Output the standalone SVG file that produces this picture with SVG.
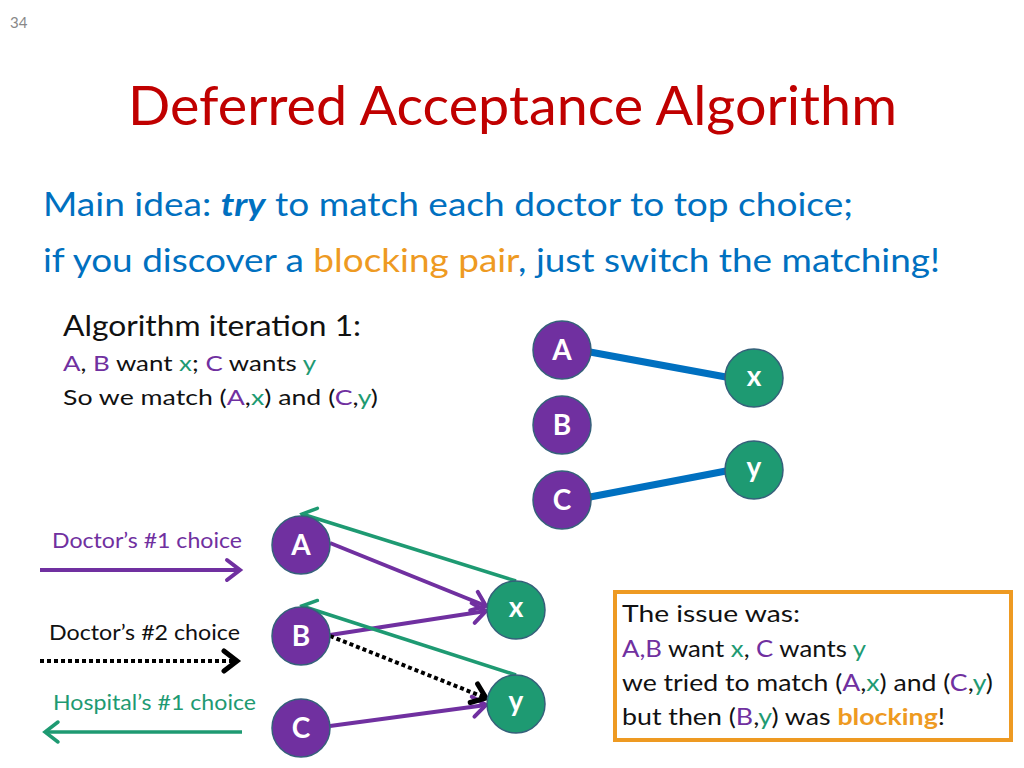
<svg xmlns="http://www.w3.org/2000/svg" width="1024" height="768" viewBox="0 0 1024 768">
<style>
text{font-family:Lato,"Open Sans","Liberation Sans",sans-serif}
.p{fill:#7030A0}.g{fill:#1E9A72}.o{fill:#EE9A22}.b{fill:#0070C0}.k{fill:#111}
.doc{fill:#7030A0;stroke:#35607A;stroke-width:1.5}
.hos{fill:#1E9A72;stroke:#35607A;stroke-width:1.5}
.lbl{fill:#fff;font-weight:bold;font-size:28px;text-anchor:middle}
.pa{stroke:#7030A0;stroke-width:4;fill:none}
.ga{stroke:#1E9A72;stroke-width:3.5;fill:none}
.ka{stroke:#000;stroke-width:4;stroke-dasharray:4 3;fill:none}
.bl{stroke:#0070C0;stroke-width:7;fill:none}
</style>
<defs>
<marker id="mp" markerUnits="userSpaceOnUse" markerWidth="22" markerHeight="26" refX="17" refY="13" orient="auto"><path d="M4,3 L17,13 L4,23" fill="none" stroke="#7030A0" stroke-width="4" stroke-linecap="round"/></marker>
<marker id="mg" markerUnits="userSpaceOnUse" markerWidth="22" markerHeight="26" refX="17" refY="13" orient="auto"><path d="M4,3 L17,13 L4,23" fill="none" stroke="#1E9A72" stroke-width="3.5" stroke-linecap="round"/></marker>
<marker id="mk" markerUnits="userSpaceOnUse" markerWidth="22" markerHeight="26" refX="17" refY="13" orient="auto"><path d="M4,3 L17,13 L4,23" fill="none" stroke="#000" stroke-width="5" stroke-linecap="round"/></marker>
</defs>
<rect width="1024" height="768" fill="#fff"/>
<text x="10" y="28" font-size="15" fill="#888">34</text>
<text x="128" y="125" font-size="54" fill="#C00000" textLength="769" lengthAdjust="spacingAndGlyphs">Deferred Acceptance Algorithm</text>
<text x="43" y="216" font-size="32" class="b" textLength="810" lengthAdjust="spacingAndGlyphs">Main idea: <tspan font-weight="bold" font-style="italic">try</tspan> to match each doctor to top choice;</text>
<text x="43" y="272" font-size="32" class="b" textLength="897" lengthAdjust="spacingAndGlyphs">if you discover a <tspan class="o">blocking pair</tspan>, just switch the matching!</text>
<text x="63" y="336" font-size="28" class="k" textLength="298" lengthAdjust="spacingAndGlyphs">Algorithm iteration 1:</text>
<text x="63" y="371" font-size="22" class="k" textLength="253" lengthAdjust="spacingAndGlyphs"><tspan class="p">A</tspan>, <tspan class="p">B</tspan> want <tspan class="g">x</tspan>; <tspan class="p">C</tspan> wants <tspan class="g">y</tspan></text>
<text x="63" y="405" font-size="22" class="k" textLength="315" lengthAdjust="spacingAndGlyphs">So we match (<tspan class="p">A</tspan>,<tspan class="g">x</tspan>) and (<tspan class="p">C</tspan>,<tspan class="g">y</tspan>)</text>
<g id="connectors">
<line class="bl" x1="590" y1="352" x2="726" y2="377"/>
<line class="bl" x1="590" y1="497" x2="726" y2="471"/>
<line class="pa" x1="330" y1="543" x2="486" y2="606" marker-end="url(#mp)"/>
<line class="pa" x1="330" y1="635" x2="486" y2="611" marker-end="url(#mp)"/>
<line class="pa" x1="330" y1="726" x2="486" y2="705" marker-end="url(#mp)"/>
<line class="ka" x1="330" y1="636" x2="486" y2="698" marker-end="url(#mk)"/>
<line class="ga" x1="516" y1="581" x2="302" y2="514" marker-end="url(#mg)"/>
<line class="ga" x1="516" y1="675" x2="302" y2="606" marker-end="url(#mg)"/>
</g>
<g id="legend">
<text x="52" y="548" font-size="21" class="p" textLength="190" lengthAdjust="spacingAndGlyphs">Doctor’s #1 choice</text>
<line class="pa" x1="40" y1="570" x2="240" y2="570" marker-end="url(#mp)"/>
<text x="49" y="640" font-size="21" class="k" textLength="191" lengthAdjust="spacingAndGlyphs">Doctor’s #2 choice</text>
<line class="ka" x1="40" y1="661" x2="237" y2="661" marker-end="url(#mk)"/>
<text x="53" y="710" font-size="21" class="g" textLength="203" lengthAdjust="spacingAndGlyphs">Hospital’s #1 choice</text>
<line class="ga" x1="242" y1="732" x2="45" y2="732" marker-end="url(#mg)"/>
</g>
<g id="top-A"><circle class="doc" cx="562" cy="350" r="29"/><text class="lbl" x="562" y="360">A</text></g>
<g id="top-B"><circle class="doc" cx="562" cy="425" r="29"/><text class="lbl" x="562" y="435">B</text></g>
<g id="top-C"><circle class="doc" cx="562" cy="500" r="29"/><text class="lbl" x="562" y="510">C</text></g>
<g id="top-x"><circle class="hos" cx="754" cy="378" r="29"/><text class="lbl" x="754" y="386">x</text></g>
<g id="top-y"><circle class="hos" cx="754" cy="470" r="29"/><text class="lbl" x="754" y="477">y</text></g>
<g id="A"><circle class="doc" cx="301" cy="545" r="29"/><text class="lbl" x="301" y="555">A</text></g>
<g id="B"><circle class="doc" cx="301" cy="636" r="29"/><text class="lbl" x="301" y="646">B</text></g>
<g id="C"><circle class="doc" cx="301" cy="728" r="29"/><text class="lbl" x="301" y="738">C</text></g>
<g id="x"><circle class="hos" cx="516" cy="610" r="29"/><text class="lbl" x="516" y="617">x</text></g>
<g id="y"><circle class="hos" cx="516" cy="704" r="29"/><text class="lbl" x="516" y="711">y</text></g>
<g id="issue-box">
<rect x="615" y="592" width="396" height="148" fill="#fff" stroke="#EE9A22" stroke-width="4"/>
<text x="622" y="622" font-size="23" class="k" textLength="178" lengthAdjust="spacingAndGlyphs">The issue was:</text>
<text x="622" y="657" font-size="23" class="k" textLength="244" lengthAdjust="spacingAndGlyphs"><tspan class="p">A,B</tspan> want <tspan class="g">x</tspan>, <tspan class="p">C</tspan> wants <tspan class="g">y</tspan></text>
<text x="622" y="691" font-size="23" class="k" textLength="371" lengthAdjust="spacingAndGlyphs">we tried to match (<tspan class="p">A</tspan>,<tspan class="g">x</tspan>) and (<tspan class="p">C</tspan>,<tspan class="g">y</tspan>)</text>
<text x="622" y="725" font-size="23" class="k" textLength="323" lengthAdjust="spacingAndGlyphs">but then (<tspan class="p">B</tspan>,<tspan class="g">y</tspan>) was <tspan class="o" font-weight="bold">blocking</tspan>!</text>
</g>
</svg>
